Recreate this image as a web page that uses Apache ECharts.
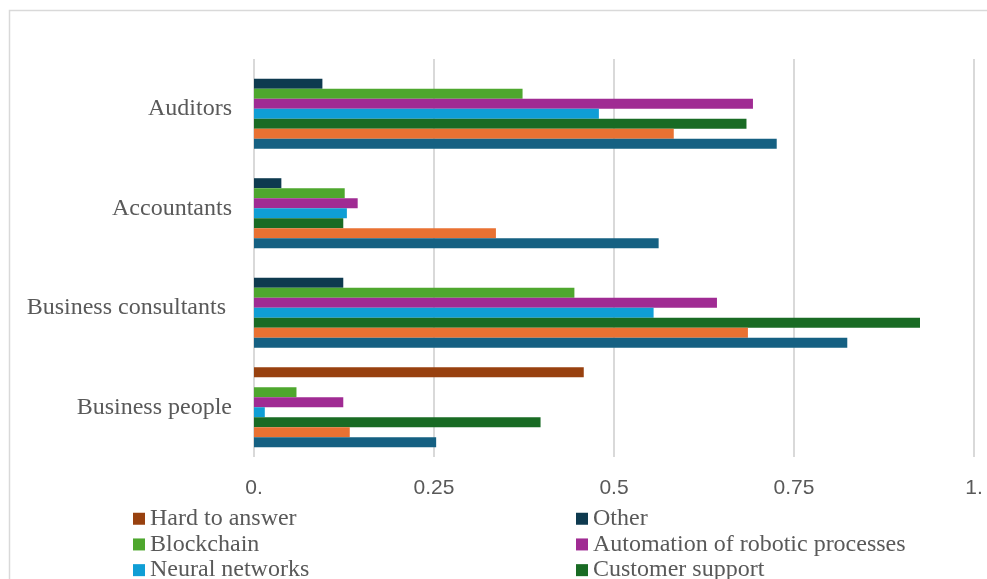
<!DOCTYPE html>
<html>
<head>
<meta charset="utf-8">
<style>
  html, body { margin: 0; padding: 0; background: #fff; }
  #chart { width: 987px; height: 579px; }
</style>
<script src="https://cdn.jsdelivr.net/npm/echarts@6/dist/echarts.min.js"></script>
</head>
<body>
<div id="chart"></div>
<script>
// Categories, bottom to top
const categories = ['Business people', 'Business consultants ', 'Accountants', 'Auditors'];
const tickLabels = ['0.', '0.25', '0.5', '0.75', '1.'];

// Series, top bar of each group first; values in category order above
const seriesNames = ['Hard to answer', 'Other', 'Blockchain', 'Automation of robotic processes',
  'Neural networks', 'Customer support', 'Series B', 'Series A'];
const seriesColors = ['#98410F', '#0E3A4F', '#4EA72E', '#A02B93',
  '#0F9ED5', '#196B24', '#E97132', '#156082'];
const hardToAnswer = [0.458, 0, 0, 0];
const other = [0, 0.124, 0.038, 0.095];
const blockchain = [0.059, 0.445, 0.126, 0.373];
const automation = [0.124, 0.643, 0.144, 0.693];
const neuralNetworks = [0.015, 0.555, 0.129, 0.479];
const customerSupport = [0.398, 0.925, 0.124, 0.684];
const valuesB = [0.133, 0.686, 0.336, 0.583];
const valuesA = [0.253, 0.824, 0.562, 0.726];
const seriesValues = [hardToAnswer, other, blockchain, automation,
  neuralNetworks, customerSupport, valuesB, valuesA];

// Legend grid: two columns, three visible rows
const legendItems = ['Hard to answer', 'Other', 'Blockchain',
  'Automation of robotic processes', 'Neural networks', 'Customer support'];

const chart = echarts.init(document.getElementById('chart'));
const legendText = { fontFamily: 'Liberation Serif', fontSize: 24, color: '#595959', lineHeight: 25.5 };
const legends = legendItems.map(function (name, i) {
  return {
    data: [name], orient: 'horizontal',
    left: i % 2 === 0 ? 133 : 576,
    top: 506 + Math.floor(i / 2) * 25.7,
    icon: 'rect', itemWidth: 12, itemHeight: 12, padding: 0,
    textStyle: legendText
  };
});
chart.setOption({
  animation: false,
  backgroundColor: '#fff',
  graphic: [{
    type: 'rect', silent: true,
    shape: { x: 9.5, y: 10.5, width: 1100, height: 700 },
    style: { fill: 'none', stroke: '#d9d9d9', lineWidth: 1.5 }
  }],
  grid: { left: 254, right: 13, top: 59, bottom: 122 },
  xAxis: {
    type: 'value', min: 0, max: 1, interval: 0.25,
    axisLine: { show: false }, axisTick: { show: false },
    splitLine: { show: true, lineStyle: { color: '#d9d9d9', width: 2 } },
    axisLabel: {
      margin: 21, fontFamily: 'Liberation Sans', fontSize: 21, color: '#595959',
      formatter: function (v) { return tickLabels[Math.round(v / 0.25)]; }
    }
  },
  yAxis: {
    type: 'category', data: categories,
    axisLine: { show: false }, axisTick: { show: false },
    axisLabel: { margin: 22, fontFamily: 'Liberation Serif', fontSize: 24, color: '#595959' }
  },
  legend: legends,
  series: seriesNames.map(function (name, i) {
    return {
      name: name, type: 'bar', data: seriesValues[i],
      barGap: '0%', barCategoryGap: '19.5%',
      itemStyle: { color: seriesColors[i] }
    };
  })
});
</script>
</body>
</html>
